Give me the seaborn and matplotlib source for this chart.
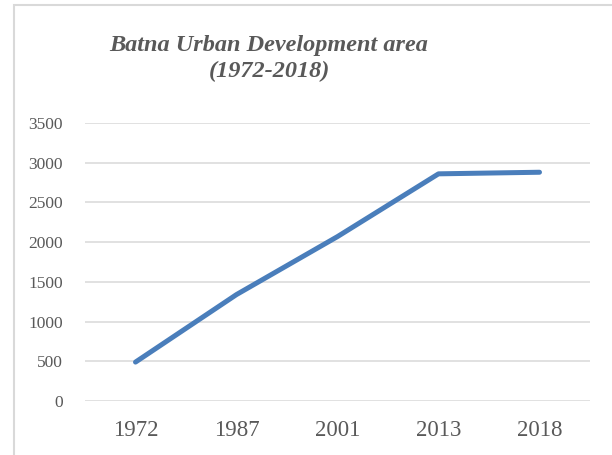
import pandas as pd
import matplotlib.pyplot as plt
import seaborn as sns
from matplotlib.patches import Rectangle

# dados
anos = ["1972", "1987", "2001", "2013", "2018"]
area = [490, 1340, 2070, 2860, 2880]
yticks = [0, 500, 1000, 1500, 2000, 2500, 3000, 3500]

df = pd.DataFrame({"ano": anos, "area": area})

sns.set_theme(style="white")
plt.rcParams['font.family'] = ['Liberation Serif', 'DejaVu Serif']

fig = plt.figure(figsize=(6.12, 4.55), dpi=100)
ax = fig.add_axes([85 / 612, 1 - 401 / 455, 505 / 612, 278 / 455])

sns.lineplot(data=df, x="ano", y="area", ax=ax, color="#4a7ebb", linewidth=3.6,
             solid_capstyle="round", solid_joinstyle="round", sort=False)

ax.set_xlim(-0.5, len(anos) - 0.5)
ax.set_ylim(0, 3500)
ax.set_yticks(yticks)
ax.set_yticklabels([str(v) for v in yticks])
ax.set_xlabel("")
ax.set_ylabel("")
ax.grid(axis="y", color="#d9d9d9", linewidth=1.1)
ax.grid(axis="x", visible=False)
for s in ax.spines.values():
    s.set_visible(False)
ax.tick_params(axis="x", labelsize=16.5, colors="#595959", pad=14, length=0)
ax.tick_params(axis="y", labelsize=12.5, colors="#595959", pad=16, length=0)

fig.text(269 / 612, 1 - 59 / 455, "Batna Urban Development area\n(1972-2018)",
         ha="center", va="center", fontsize=17.5, fontweight="bold", style="italic",
         color="#595959", linespacing=1.3)

# moldura do grafico
fig.patches.append(Rectangle((14 / 612, -0.05), 1.2, 1 - 5 / 455 + 0.05, transform=fig.transFigure,
                             fill=False, edgecolor="#d9d9d9", linewidth=1.5))

fig.savefig("out.png", dpi=100)
